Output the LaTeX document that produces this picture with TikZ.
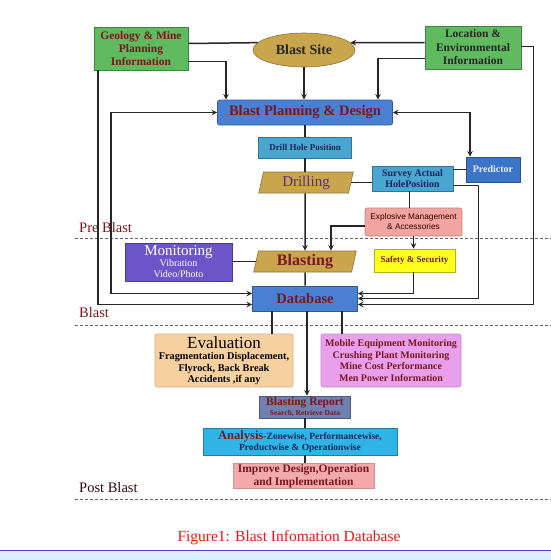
\documentclass[tikz,border=0pt]{standalone}
\usepackage{fontspec}
\setmainfont{Liberation Serif}
\newfontfamily\arialfont{Liberation Sans}
\usetikzlibrary{shapes.geometric}
\newcommand{\fsz}[2]{\fontsize{#1}{#2}\selectfont}
\definecolor{mgreen}{RGB}{96,186,96}
\definecolor{gold}{RGB}{201,166,78}
\definecolor{planblue}{RGB}{74,128,210}
\definecolor{skyblue}{RGB}{72,166,208}
\definecolor{predblue}{RGB}{60,116,200}
\definecolor{salmon}{RGB}{242,164,160}
\definecolor{slate}{RGB}{106,86,200}
\definecolor{yel}{RGB}{255,255,30}
\definecolor{tan}{RGB}{247,208,160}
\definecolor{violet}{RGB}{232,160,236}
\definecolor{repblue}{RGB}{112,128,176}
\definecolor{cyanbox}{RGB}{48,180,230}
\definecolor{pinkbox}{RGB}{244,169,170}
\definecolor{maroon}{RGB}{120,24,30}
\definecolor{navy}{RGB}{28,36,90}
\definecolor{grape}{RGB}{92,42,134}
\definecolor{capred}{RGB}{240,20,20}
\tikzset{
  box/.style={draw, line width=0.6pt, align=center, inner sep=1pt},
  slant/.style={box, trapezium, trapezium left angle=80, trapezium right angle=100, trapezium stretches=true},
  link/.style={line width=1.5pt, draw=black!85},
  phase/.style={dash pattern=on 3pt off 2pt, line width=0.8pt, draw=gray!80!black},
  phasetext/.style={anchor=west, inner sep=0pt, text=maroon, font=\fsz{14.5}{16}},
}
\begin{document}
\begin{tikzpicture}[x=1pt, y=-1pt, >=stealth]
  \useasboundingbox (0,0) rectangle (551,560);
  % top row
  \node[box, fill=mgreen, draw=mgreen!70!black, minimum width=94pt, minimum height=43pt, text=maroon, font=\fsz{11.5}{13}\bfseries] (geo) at (141,48.5) {Geology \& Mine\\Planning\\Information};
  \node[box, ellipse, fill=gold, draw=gold!70!black, minimum width=102pt, minimum height=34pt, text=black!85, font=\fsz{14}{16}\bfseries] (site) at (304,50) {Blast Site};
  \node[box, fill=mgreen, draw=mgreen!70!black, minimum width=96pt, minimum height=43pt, text=black!85, font=\fsz{11.5}{13.5}\bfseries] (loc) at (473,47.5) {Location \&\\Environmental\\Information};
  % pre blast
  \node[box, rounded corners=2pt, fill=planblue, draw=planblue!70!black, minimum width=175pt, minimum height=25pt, text=maroon, font=\fsz{14.5}{16}\bfseries] (plan) at (305,112.5) {Blast Planning \& Design};
  \node[box, fill=skyblue, draw=skyblue!70!black, minimum width=93pt, minimum height=21pt, text=navy, font=\fsz{9}{11}\bfseries] (drill) at (305,147.5) {Drill Hole Position};
  \node[slant, fill=gold, draw=gold!70!black, minimum width=95pt, minimum height=21pt, text=grape, font=\fsz{15}{17}] (drilling) at (306,182.5) {Drilling};
  \node[box, fill=skyblue, draw=skyblue!70!black, minimum width=81pt, minimum height=25pt, text=navy, font=\fsz{10}{11.5}\bfseries] (survey) at (412.5,178.5) {Survey Actual\\HolePosition};
  \node[box, fill=predblue, draw=predblue!70!black, minimum width=54pt, minimum height=25pt, text=white!92!blue, font=\fsz{10}{12}\bfseries] (pred) at (493,169.5) {Predictor};
  \node[box, rounded corners=2pt, fill=salmon, draw=salmon!80!black, minimum width=97pt, minimum height=28pt, text=black!80!red, font=\arialfont\fsz{8.3}{10}] (expl) at (413.5,222) {Explosive Management\\\& Accessories};
  % blast
  \node[box, fill=slate, draw=slate!70!black, minimum width=107pt, minimum height=38pt, text=white, font=\fsz{15}{11}] (mon) at (178.5,262) {Monitoring\\{\fsz{10}{11}Vibration}\\{\fsz{10}{11}Video/Photo}};
  \node[slant, fill=gold, draw=gold!70!black, minimum width=103pt, minimum height=21pt, text=maroon, font=\fsz{16}{18}\bfseries] (blast) at (305,261.5) {Blasting};
  \node[box, fill=yel, draw=yel!70!black, minimum width=81pt, minimum height=23pt, text=maroon, font=\fsz{9}{11}\bfseries] (safety) at (414.5,260.5) {Safety \& Security};
  \node[box, fill=planblue, draw=planblue!70!black, minimum width=105pt, minimum height=25pt, text=maroon, font=\fsz{14.5}{16}\bfseries] (db) at (305,298.5) {Database};
  % post blast
  \node[box, rounded corners=2pt, fill=tan, draw=tan!85!black, minimum width=138pt, minimum height=53pt, text=black, font=\fsz{10.3}{11.5}\bfseries] (eval) at (224,360.5) {{\fsz{17}{16}\mdseries Evaluation}\\Fragmentation Displacement,\\Flyrock, Back Break\\Accidents ,if any};
  \node[box, rounded corners=2pt, fill=violet, draw=violet!85!black, minimum width=140pt, minimum height=53pt, text=maroon, font=\fsz{10}{11.5}\bfseries] (mob) at (391,360.5) {Mobile Equipment Monitoring\\Crushing Plant Monitoring\\Mine Cost Performance\\Men Power Information};
  \node[box, fill=repblue, draw=repblue!70!black, minimum width=91pt, minimum height=22pt, text=maroon, font=\fsz{11.5}{10}\bfseries] (report) at (305,407) {Blasting Report\\{\fsz{7.5}{8}Search, Retrieve Data}};
  \node[box, fill=cyanbox, draw=cyanbox!70!black, minimum width=194pt, minimum height=27pt, text=navy, font=\fsz{9.5}{11.5}\bfseries] (anal) at (300,441.5) {{\fsz{12.5}{12}\textcolor{maroon}{Analysis}}-Zonewise, Performancewise,\\Productwise \& Operationwise};
  \node[box, fill=pinkbox, draw=pinkbox!85!black, minimum width=141pt, minimum height=24pt, text=maroon, font=\fsz{11.5}{13}\bfseries] (impr) at (303.5,476) {Improve Design,Operation\\and Implementation};
  % phase lines
  \draw[phase] (75,238) -- (551,238);
  \draw[phase] (75,325) -- (551,325);
  \draw[phase] (75,499) -- (551,499);
  \node[phasetext] (pre) at (79,228) {Pre Blast};
  \node[phasetext] (mid) at (79,313) {Blast};
  \node[phasetext, text=black!60!maroon] (post) at (79,488) {Post Blast};
  % connectors
  \draw[link] ([yshift=5pt]geo.east) -- (site.171);
  \draw[link, ->] ([yshift=5pt]loc.west) -- (site.9);
  \draw[link, ->] ([yshift=-13pt]geo.east) -| ([xshift=-79pt]plan.north);
  \draw[link, ->] ([yshift=-11pt]loc.west) -| ([xshift=73pt]plan.north);
  \draw[link, ->] (site.south) -- (site.south |- plan.north);
  \draw[link, ->] ([xshift=-43pt]geo.south) |- ([yshift=-6pt]db.west);
  \draw[link, <->] (plan.west) -- ++(-106,0) |- ([yshift=5pt]db.west);
  \draw[link, <->] (plan.east) -| ([xshift=-23pt]pred.north);
  \draw[link, ->] ([yshift=1pt]loc.east) -- ++(12,0) |- ([yshift=-6pt]db.east);
  \draw[link] (plan.south) -- (drill.north);
  \draw[link] (drill.south) -- (drill.south |- drilling.north);
  \draw[link, ->] (drill.south |- drilling.south) -- (blast.north);
  \draw[link] (blast.south) -- (db.north);
  \draw[link] (drilling.east) -- (drilling.east -| survey.west);
  \draw[link] (pred.west) -- (pred.west -| survey.east);
  \draw[link] ([xshift=-3pt]survey.south) -- ([xshift=-3pt]survey.south |- expl.north);
  \draw[link, ->] ([yshift=-7pt]survey.east) -- ++(25,0) |- (db.east);
  \draw[link, ->] ([yshift=-4pt]expl.west) -| ([xshift=26pt]blast.north);
  \draw[link, ->] (expl.south) -- (expl.south |- safety.north);
  \draw[link, ->] (expl.south |- safety.south) |- ([yshift=5pt]db.east);
  \draw[link] (blast.west) -- (blast.west -| mon.east);
  \draw[link] ([xshift=-33pt]db.south) -- ([xshift=-33pt]db.south |- eval.north);
  \draw[link] ([xshift=37pt]db.south) -- ([xshift=37pt]db.south |- mob.north);
  \draw[link, ->] ([xshift=2pt]db.south) -- ([xshift=2pt]report.north);
  \draw[link] (report.south) -- (report.south |- anal.north);
  \draw[link] (report.south |- anal.south) -- (report.south |- impr.north);
  % caption and window edge
  \node[text=capred, font=\fsz{15.5}{17}] (cap) at (289,538) {Figure1: Blast Infomation Database};
  \shade[top color=blue!8, bottom color=blue!25!cyan!20] (0,551) rectangle (551,560);
  \draw[draw=blue!45!gray, line width=1pt] (0,550.5) -- (551,550.5);
\end{tikzpicture}
\end{document}
